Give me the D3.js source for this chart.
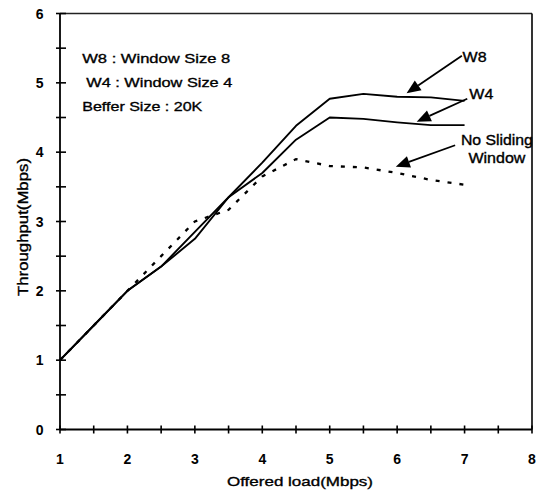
<!DOCTYPE html>
<html>
<head>
<meta charset="utf-8">
<script src="https://cdn.jsdelivr.net/npm/d3@7"></script>
<style>
  html, body { margin: 0; padding: 0; background: #fff; }
  svg { display: block; }
  text { font-family: "Liberation Sans", Arial, sans-serif; fill: #000; }
  .ann { stroke: #000; stroke-width: 0.35px; }
</style>
</head>
<body>
<svg id="chart" width="547" height="496"></svg>
<script>
// ---- data ----
const offeredLoad = [1, 1.5, 2, 2.5, 3, 3.5, 4, 4.5, 5, 5.5, 6, 6.5, 7];
const w8 = [1.0, 1.5, 2.0, 2.35, 2.85, 3.35, 3.85, 4.38, 4.77, 4.84, 4.8, 4.79, 4.74];
const w4 = [1.0, 1.5, 2.0, 2.35, 2.75, 3.35, 3.7, 4.18, 4.5, 4.48, 4.43, 4.39, 4.39];
const noSliding = [1.0, 1.5, 2.0, 2.5, 3.0, 3.17, 3.65, 3.9, 3.8, 3.78, 3.7, 3.6, 3.53];
const xTicks = [1, 2, 3, 4, 5, 6, 7, 8];
const yTicks = [0, 1, 2, 3, 4, 5, 6];
const notes = ["W8 : Window Size 8", "W4 : Window Size 4", "Beffer Size : 20K"];

// ---- layout ----
const svg = d3.select("#chart");
const x = d3.scaleLinear().domain([1, 8]).range([60, 532]);
const y = d3.scaleLinear().domain([0, 6]).range([429.5, 13.5]);

const g = svg.append("g");

// frame (top and right)
g.append("line").attr("x1", x(1)).attr("x2", x(8)).attr("y1", y(6)).attr("y2", y(6))
  .attr("stroke", "#222").attr("stroke-width", 1.3);
g.append("line").attr("x1", x(8)).attr("x2", x(8)).attr("y1", y(6)).attr("y2", y(0))
  .attr("stroke", "#000").attr("stroke-width", 1.6);

// axes
g.append("line").attr("x1", x(1)).attr("x2", x(8)).attr("y1", y(0)).attr("y2", y(0))
  .attr("stroke", "#000").attr("stroke-width", 1.8);
g.append("line").attr("x1", x(1)).attr("x2", x(1)).attr("y1", y(0)).attr("y2", y(6))
  .attr("stroke", "#000").attr("stroke-width", 1.8);

const xMinor = d3.range(1, 8.01, 0.5);
const yMinor = d3.range(0, 6.01, 0.5);
g.selectAll(".xt").data(xMinor).join("line")
  .attr("x1", d => x(d)).attr("x2", d => x(d))
  .attr("y1", y(0) - 4).attr("y2", y(0) + 4)
  .attr("stroke", "#000").attr("stroke-width", 1.6);
g.selectAll(".yt").data(yMinor).join("line")
  .attr("x1", x(1) - 4).attr("x2", x(1) + 6)
  .attr("y1", d => y(d)).attr("y2", d => y(d))
  .attr("stroke", "#000").attr("stroke-width", 1.6);

// tick labels
g.selectAll(".xl").data(xTicks).join("text")
  .attr("x", d => x(d)).attr("y", 463.5)
  .attr("text-anchor", "middle").attr("font-size", 14).attr("font-weight", "bold")
  .text(d => d);
g.selectAll(".yl").data(yTicks).join("text")
  .attr("x", 43.5).attr("y", d => y(d)).attr("dy", "0.36em")
  .attr("text-anchor", "end").attr("font-size", 14).attr("font-weight", "bold")
  .text(d => d);

// axis titles
g.append("text").attr("class", "ann").attr("x", 300).attr("y", 486).attr("text-anchor", "middle")
  .attr("font-size", 13.5).attr("textLength", 146).attr("lengthAdjust", "spacingAndGlyphs")
  .text("Offered load(Mbps)");
g.append("text").attr("class", "ann").attr("transform", "translate(27.5,227) rotate(-90)").attr("text-anchor", "middle")
  .attr("font-size", 14).attr("textLength", 138).attr("lengthAdjust", "spacingAndGlyphs")
  .text("Throughput(Mbps)");

// series
const line = d3.line().x(d => x(d[0])).y(d => y(d[1]));
const zip = arr => offeredLoad.map((v, i) => [v, arr[i]]);
g.append("path").attr("d", line(zip(noSliding))).attr("fill", "none")
  .attr("stroke", "#000").attr("stroke-width", 2.3).attr("stroke-dasharray", "4,8");
g.append("path").attr("d", line(zip(w4))).attr("fill", "none")
  .attr("stroke", "#000").attr("stroke-width", 1.9).attr("stroke-linejoin", "round");
g.append("path").attr("d", line(zip(w8))).attr("fill", "none")
  .attr("stroke", "#000").attr("stroke-width", 1.9).attr("stroke-linejoin", "round");

// notes (top-left)
const noteX = [1.33, 1.39, 1.33];
const noteY = [5.28, 4.94, 4.59];
const noteW = [148, 146, 120];
notes.forEach((t, i) => {
  g.append("text").attr("class", "ann").attr("x", x(noteX[i])).attr("y", y(noteY[i]))
    .attr("font-size", 13.5).attr("textLength", noteW[i]).attr("lengthAdjust", "spacingAndGlyphs")
    .text(t);
});

// arrows (data coordinates)
const arrows = [
  { from: [6.96, 5.39], to: [6.14, 4.85] },
  { from: [7.04, 4.77], to: [6.29, 4.44] },
  { from: [6.86, 4.10], to: [5.98, 3.79] }
];
arrows.forEach(a => {
  const x1 = x(a.from[0]), y1 = y(a.from[1]), x2 = x(a.to[0]), y2 = y(a.to[1]);
  const ang = Math.atan2(y2 - y1, x2 - x1);
  const L = 14, W = 6;
  const bx = x2 - L * Math.cos(ang), by = y2 - L * Math.sin(ang);
  g.append("line").attr("x1", x1).attr("y1", y1).attr("x2", bx).attr("y2", by)
    .attr("stroke", "#000").attr("stroke-width", 1.8);
  const p1 = [bx + W * Math.sin(ang), by - W * Math.cos(ang)];
  const p2 = [bx - W * Math.sin(ang), by + W * Math.cos(ang)];
  g.append("path").attr("d", `M${x2},${y2}L${p1[0]},${p1[1]}L${p2[0]},${p2[1]}Z`)
    .attr("fill", "#000");
});

// series labels
g.append("text").attr("class", "ann").attr("x", x(6.97)).attr("y", y(5.30)).attr("font-size", 14)
  .attr("textLength", 24).attr("lengthAdjust", "spacingAndGlyphs").text("W8");
g.append("text").attr("class", "ann").attr("x", x(7.07)).attr("y", y(4.77)).attr("font-size", 14)
  .attr("textLength", 24).attr("lengthAdjust", "spacingAndGlyphs").text("W4");
g.append("text").attr("class", "ann").attr("x", x(7.48)).attr("y", y(4.10)).attr("font-size", 14).attr("text-anchor", "middle")
  .attr("textLength", 72).attr("lengthAdjust", "spacingAndGlyphs").text("No Sliding");
g.append("text").attr("class", "ann").attr("x", x(7.48)).attr("y", y(3.84)).attr("font-size", 14).attr("text-anchor", "middle")
  .attr("textLength", 57).attr("lengthAdjust", "spacingAndGlyphs").text("Window");
</script>
</body>
</html>
